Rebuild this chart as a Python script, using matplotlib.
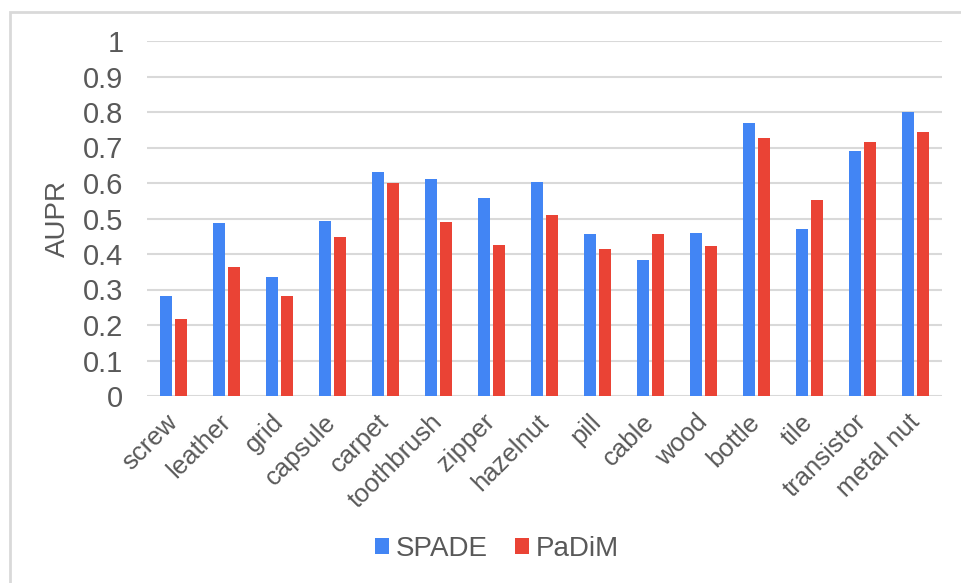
import numpy as np
import matplotlib
matplotlib.use('Agg')
import matplotlib.pyplot as plt
import matplotlib.patches as mpatches

categories = ['screw', 'leather', 'grid', 'capsule', 'carpet', 'toothbrush',
              'zipper', 'hazelnut', 'pill', 'cable', 'wood', 'bottle', 'tile',
              'transistor', 'metal nut']
spade = [0.282, 0.486, 0.336, 0.494, 0.631, 0.611, 0.557, 0.603, 0.455,
         0.384, 0.460, 0.769, 0.471, 0.690, 0.800]
padim = [0.218, 0.362, 0.283, 0.449, 0.600, 0.489, 0.426, 0.509, 0.415,
         0.455, 0.422, 0.728, 0.551, 0.716, 0.744]
yticks = [0, 0.1, 0.2, 0.3, 0.4, 0.5, 0.6, 0.7, 0.8, 0.9, 1]
ytick_labels = ['0', '0.1', '0.2', '0.3', '0.4', '0.5', '0.6', '0.7', '0.8',
                '0.9', '1']

blue = '#4285F4'
red = '#EA4335'
textc = '#595959'
gridc = '#d9d9d9'

plt.rcParams['font.family'] = ['Liberation Sans', 'DejaVu Sans']

fig = plt.figure(figsize=(9.62, 5.83), dpi=100)
ax = fig.add_axes([147 / 962, 187 / 583, 795 / 962, 355 / 583])

x = np.arange(len(categories))
w = 0.22
ax.bar(x - 0.137, spade, w, color=blue, label='SPADE', zorder=3)
ax.bar(x + 0.137, padim, w, color=red, label='PaDiM', zorder=3)

ax.set_xlim(-0.5, len(categories) - 0.5)
ax.set_ylim(0, 1)
ax.set_yticks(yticks)
ax.set_yticklabels(ytick_labels)
ax.yaxis.grid(True, color=gridc, lw=1.5, zorder=0)
ax.set_axisbelow(True)
for s in ax.spines.values():
    s.set_visible(False)
ax.axhline(0, color=gridc, lw=1.8, zorder=2)

ax.tick_params(axis='y', length=0, pad=17, labelsize=21, labelcolor=textc)
ax.tick_params(axis='x', length=0, pad=16, labelsize=18.5, labelcolor=textc)
ax.set_xticks(x)
ax.set_xticklabels(categories, rotation=45, ha='right', va='center',
                   rotation_mode='anchor')
ax.set_ylabel('AUPR', fontsize=20, color=textc, labelpad=9)

fig.legend(loc='center', bbox_to_anchor=(497 / 962, 1 - 549 / 583),
           ncol=2, frameon=False, fontsize=20, labelcolor=textc,
           handlelength=0.5, handleheight=0.5, handletextpad=0.25,
           columnspacing=1.0, borderaxespad=0)

# light frame round the chart (runs off right and bottom)
frame = mpatches.Rectangle((10 / 962, -0.2), 1.2, 1.2 - 12 / 583 + 0.0,
                           transform=fig.transFigure, fill=False,
                           edgecolor=gridc, lw=2, clip_on=False)
fig.patches.append(frame)

fig.savefig('out.png', dpi=100, facecolor='white')
